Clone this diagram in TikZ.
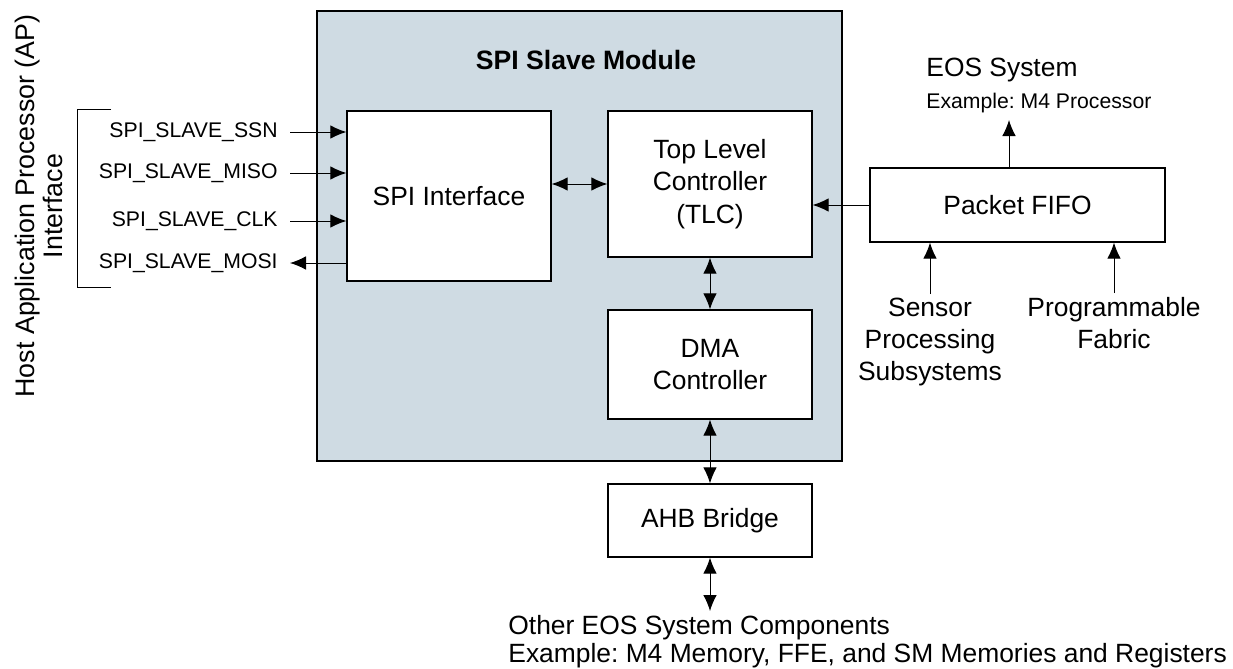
\documentclass[tikz,border=0pt]{standalone}
\usepackage{fontspec}
\setmainfont{Liberation Sans}
\usepackage{xcolor}
\usepackage{tikz}
\usetikzlibrary{positioning}
\usetikzlibrary{arrows.meta}
\definecolor{slavebg}{RGB}{207,219,227}
\frenchspacing
\tikzset{
    blk/.style = {rectangle, draw=black, line width=0.65pt, fill=white, align=center, inner sep=0pt, font=\fontsize{13.2}{16.2}\selectfont},
    modbox/.style = {rectangle, draw=black, line width=0.65pt, fill=slavebg},
    lbl/.style = {align=center, inner sep=2pt, font=\fontsize{13.2}{16}\selectfont},
    sig/.style = {anchor=east, inner xsep=6pt, inner ysep=1pt, font=\fontsize{10.6}{12}\selectfont},
}

\begin{document}
\begin{tikzpicture}[x=50pt, y=-50pt]
\tikzset{
    arr/.style = {-{Latex[length=8pt,width=6.8pt]}, line width=0.5pt},
    biarr/.style = {{Latex[length=8pt,width=6.8pt]}-{Latex[length=8pt,width=6.8pt]}, line width=0.5pt},
}
\useasboundingbox (0,0) rectangle (12.33,6.69);
%
\node[modbox, minimum width=262.5pt, minimum height=225pt] at (5.795,2.36) (slave) {};
\node[lbl, font=\fontsize{13.3}{16}\selectfont\bfseries] at (5.86,0.60) (title) {SPI Slave Module};
%
\node[blk, minimum width=102pt, minimum height=85pt] at (4.49,1.96) (spi) {SPI Interface};
\node[blk, minimum width=102pt, minimum height=73pt] at (7.10,1.84) (tlc) {Top Level\\Controller\\(TLC)};
\node[blk, minimum width=102pt, minimum height=54.5pt] at (7.10,3.645) (dma) {DMA\\Controller};
\node[blk, minimum width=102pt, minimum height=36.5pt] at (7.10,5.205) (ahb) {AHB Bridge};
\node[blk, minimum width=147.5pt, minimum height=37pt] at (10.175,2.05) (fifo) {Packet FIFO};
%
\node[lbl, rotate=90, font=\fontsize{13.4}{14}\selectfont] at (0.39,2.06) (host) {Host Application Processor (AP)\\Interface};
\draw[line width=0.5pt] (1.11,1.09) -- (0.77,1.09) -- (0.77,2.87) -- (1.11,2.87);
\node[sig] at (2.90,1.32) (ssn) {SPI\_SLAVE\_SSN};
\node[sig] at (2.90,1.73) (miso) {SPI\_SLAVE\_MISO};
\node[sig] at (2.90,2.21) (clk) {SPI\_SLAVE\_CLK};
\node[sig] at (2.90,2.63) (mosi) {SPI\_SLAVE\_MOSI};
%
\draw[arr] (ssn.east) -- (spi.west |- ssn.east);
\draw[arr] (miso.east) -- (spi.west |- miso.east);
\draw[arr] (clk.east) -- (spi.west |- clk.east);
\draw[arr] (spi.west |- mosi.east) -- (mosi.east);
%
\draw[biarr] (spi.east |- tlc.west) -- (tlc.west);
\draw[biarr] (tlc.south) -- (dma.north);
\draw[biarr] (dma.south) -- (ahb.north);
\draw[arr] (fifo.west) -- (fifo.west -| tlc.east);
%
\node[lbl, anchor=west, inner sep=0pt] at (9.26,0.70) (eos) {EOS System};
\node[anchor=west, inner sep=0pt, font=\fontsize{10.6}{12}\selectfont] at (9.26,1.03) (eosex) {Example: M4 Processor};
\coordinate (eosin) at (10.09,1.20);
\draw[arr] (fifo.north -| eosin) -- (eosin);
%
\node[lbl, anchor=north] at (9.30,2.94) (sens) {Sensor\\Processing\\Subsystems};
\node[lbl, anchor=north] at (11.14,2.93) (prog) {Programmable\\Fabric};
\draw[arr] (sens.north) -- (sens.north |- fifo.south);
\draw[arr] (prog.north) -- (prog.north |- fifo.south);
%
\node[lbl, align=left, anchor=north west, font=\fontsize{13.2}{14}\selectfont] at (5.04,6.11) (other) {Other EOS System Components\\Example: M4 Memory, FFE, and SM Memories and Registers};
\draw[biarr] (ahb.south) -- (ahb.south |- other.north);
\end{tikzpicture}
\end{document}
